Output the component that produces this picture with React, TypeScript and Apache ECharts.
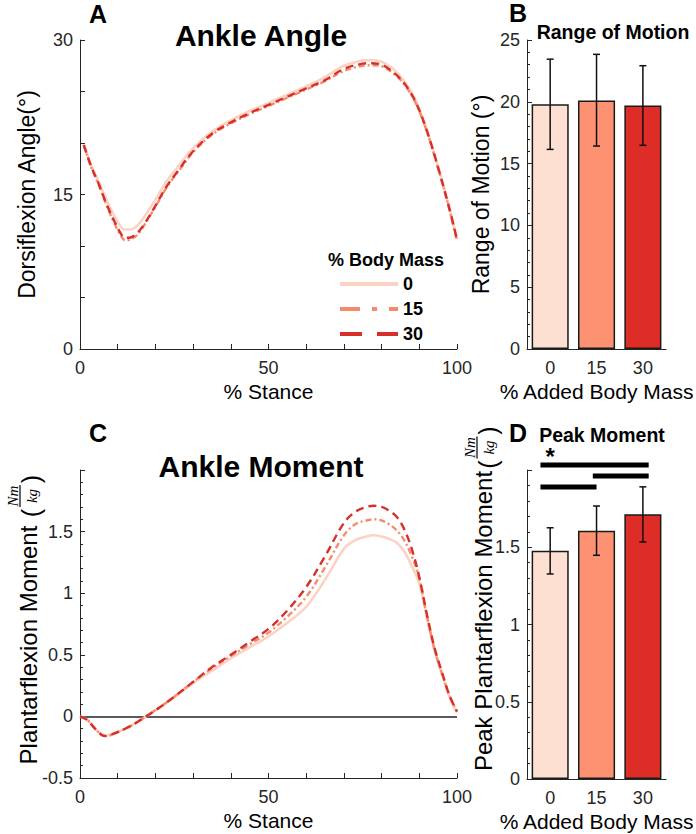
import React, { useEffect, useRef } from "react";
import * as echarts from "echarts";

// ---------- data ----------
const STANCE_A = [1, 3, 5, 7, 9, 11, 12, 13, 15, 17, 20, 23, 26, 30, 35, 40, 45, 50, 55, 60, 65, 70, 75, 77, 80, 83, 86, 89, 92, 95, 98, 100];
const ANGLE_0 = [19.9, 17.8, 16.2, 14.5, 13.0, 11.8, 11.6, 11.6, 11.9, 12.8, 14.5, 16.3, 17.7, 19.5, 21.1, 22.2, 23.1, 23.9, 24.7, 25.5, 26.4, 27.5, 28.0, 28.05, 27.9, 27.2, 26.0, 24.2, 21.3, 17.7, 13.7, 10.7];
const ANGLE_15 = [19.8, 17.6, 15.9, 14.0, 12.3, 10.9, 10.55, 10.6, 11.0, 12.0, 13.8, 15.7, 17.2, 19.1, 20.8, 21.9, 22.8, 23.6, 24.4, 25.2, 26.0, 27.0, 27.5, 27.55, 27.45, 26.8, 25.7, 23.9, 21.1, 17.5, 13.5, 10.5];
const ANGLE_30 = [19.8, 17.7, 16.0, 14.1, 12.5, 11.1, 10.8, 10.8, 11.2, 12.1, 13.9, 15.8, 17.3, 19.2, 20.9, 22.0, 22.9, 23.7, 24.5, 25.3, 26.1, 27.2, 27.7, 27.75, 27.6, 26.9, 25.8, 24.0, 21.2, 17.6, 13.6, 10.6];

const STANCE_C = [0, 2, 4, 6, 7, 9, 12, 15, 18, 21, 25, 30, 35, 40, 45, 50, 55, 60, 65, 70, 73, 76, 78, 80, 82, 84, 86, 88, 90, 92, 94, 96, 98, 100];
const MOMENT_0 = [0, -0.03, -0.1, -0.15, -0.155, -0.135, -0.1, -0.05, 0.01, 0.07, 0.155, 0.27, 0.37, 0.47, 0.56, 0.65, 0.76, 0.89, 1.11, 1.36, 1.43, 1.46, 1.47, 1.46, 1.44, 1.41, 1.34, 1.22, 1.08, 0.8, 0.54, 0.34, 0.16, 0.03];
const MOMENT_15 = [0, -0.03, -0.1, -0.155, -0.16, -0.14, -0.1, -0.05, 0.01, 0.07, 0.16, 0.28, 0.39, 0.49, 0.585, 0.68, 0.81, 0.97, 1.21, 1.47, 1.56, 1.59, 1.6, 1.59, 1.56, 1.51, 1.43, 1.3, 1.12, 0.82, 0.55, 0.35, 0.17, 0.04];
const MOMENT_30 = [0, -0.03, -0.1, -0.155, -0.16, -0.14, -0.1, -0.05, 0.01, 0.07, 0.16, 0.28, 0.4, 0.5, 0.605, 0.71, 0.86, 1.05, 1.3, 1.57, 1.66, 1.7, 1.71, 1.7, 1.67, 1.62, 1.52, 1.36, 1.13, 0.83, 0.56, 0.36, 0.17, 0.04];

const MASS_LEVELS = ["0", "15", "30"];
const ROM_MEAN = [19.8, 20.1, 19.7];
const ROM_LOW = [16.15, 16.42, 16.48];
const ROM_HIGH = [23.45, 23.84, 22.92];
const PEAK_MEAN = [1.478, 1.607, 1.713];
const PEAK_LOW = [1.327, 1.448, 1.534];
const PEAK_HIGH = [1.626, 1.767, 1.891];
// significance bars: [start (category units), end (category units), height]
const SIG_BARS = [
  [-0.21, 2.125, 2.032],
  [0.92, 2.125, 1.961],
  [-0.21, 1.0, 1.89],
];
const SIG_STAR = [[0, 2.085]];
const SIG_STAR_TEXT = ["*"];

const A_Y_TICKS = [0, 15, 30];
const A_X_TICKS = [0, 50, 100];

// ---------- style ----------
const FONT = '"Liberation Sans", Arial, Helvetica, sans-serif';
const SERIF = '"Liberation Serif", "DejaVu Serif", serif';
const AX = "#262626";
const LINE_COLORS = ["#fbd3c4", "#f58b6c", "#d7302b"];
const BAR_COLORS = ["#fee0d2", "#fc9272", "#de2d26"];
const LINE_TYPES: any[] = ["solid", [6, 3, 2, 3], [8, 5]];
const LEGEND_TYPES: any[] = ["solid", [20, 12, 5, 12], [22, 15]];

function zip(xs: number[], ys: number[]) {
  return xs.map((x, i) => [x, ys[i]]);
}

const axisLine = { show: true, onZero: false, lineStyle: { color: AX, width: 1 } };
const axisTick = { show: true, inside: true, length: 5, lineStyle: { color: AX, width: 1 } };
const minorTick = { show: true, splitNumber: 5, length: 3, lineStyle: { color: AX, width: 1 } };
const label = (margin: number, formatter?: any) => ({
  color: AX,
  fontSize: 18,
  fontFamily: FONT,
  margin,
  formatter,
});
const nameStyle = { color: "#000", fontSize: 21, fontFamily: FONT };

function rotText(text: string, x: number, y: number, size: number, family = FONT, style: any = {}) {
  return {
    type: "text",
    x,
    y,
    rotation: Math.PI / 2,
    style: {
      text,
      fill: "#000",
      fontSize: size,
      fontFamily: family,
      align: "center",
      verticalAlign: "middle",
      textAlign: "center",
      textVerticalAlign: "middle",
      ...style,
    },
  };
}
function hText(text: string, x: number, y: number, size: number, bold = true) {
  return {
    type: "text",
    x,
    y,
    style: {
      text,
      fill: "#000",
      fontSize: size,
      fontWeight: bold ? "bold" : "normal",
      fontFamily: FONT,
      align: "center",
      verticalAlign: "middle",
      textAlign: "center",
      textVerticalAlign: "middle",
    },
  };
}
// rotated axis label with a (Nm / kg) fraction; fx = screen x of fraction bar, fy = its centre
function fractionLabel(xMain: number, yMain: number, main: string, size: number, fx: number, fy: number) {
  return [
    rotText(main, xMain, yMain, size),
    rotText("(", fx + 11, fy + 17, 25),
    rotText("Nm", fx - 7.5, fy, 15, SERIF, { fontStyle: "italic" }),
    { type: "line", shape: { x1: fx, y1: fy - 11, x2: fx, y2: fy + 11 }, style: { stroke: "#000", lineWidth: 1.2 } },
    rotText("kg", fx + 12, fy, 15, SERIF, { fontStyle: "italic" }),
    rotText(")", fx + 11, fy - 17, 25),
  ];
}

function errorBarRender(params: any, api: any) {
  const cat = api.value(0);
  const lo = api.coord([cat, api.value(1)]);
  const hi = api.coord([cat, api.value(2)]);
  const cap = 3.5;
  const style = { stroke: "#111", lineWidth: 1.5 };
  return {
    type: "group",
    children: [
      { type: "line", shape: { x1: lo[0], y1: lo[1], x2: hi[0], y2: hi[1] }, style },
      { type: "line", shape: { x1: lo[0] - cap, y1: lo[1], x2: lo[0] + cap, y2: lo[1] }, style },
      { type: "line", shape: { x1: hi[0] - cap, y1: hi[1], x2: hi[0] + cap, y2: hi[1] }, style },
    ],
  };
}

function sigRender(params: any, api: any) {
  const base = api.coord([api.value(0), api.value(1)]);
  const band = api.size([1, 0])[0];
  const x1 = base[0] + api.value(2) * band;
  const x2 = base[0] + api.value(3) * band;
  return {
    type: "line",
    shape: { x1, y1: base[1], x2, y2: base[1] },
    style: { stroke: "#000", lineWidth: 5, lineCap: "butt" },
  };
}

function starRender(params: any, api: any) {
  const p = api.coord([api.value(0), api.value(1)]);
  return {
    type: "text",
    x: p[0],
    y: p[1],
    style: {
      text: SIG_STAR_TEXT[params.dataIndex],
      fill: "#000",
      fontSize: 24,
      fontWeight: "bold",
      fontFamily: FONT,
      align: "center",
      verticalAlign: "middle",
      textAlign: "center",
      textVerticalAlign: "middle",
    },
  };
}

function buildOption(): any {
  const lineSeries = (ys: number[][], xIdx: number) =>
    ys.map((arr, i) => ({
      type: "line",
      name: MASS_LEVELS[i],
      xAxisIndex: xIdx,
      yAxisIndex: xIdx,
      data: zip(xIdx === 0 ? STANCE_A : STANCE_C, arr),
      smooth: 0.35,
      symbol: "none",
      showSymbol: false,
      z: 3 + i,
      lineStyle: { color: LINE_COLORS[i], width: i === 0 ? 2.6 : 2.4, type: LINE_TYPES[i] },
      itemStyle: { color: LINE_COLORS[i] },
      ...(xIdx === 2 && i === 0
        ? {
            markLine: {
              silent: true,
              symbol: "none",
              label: { show: false },
              lineStyle: { color: "#5a5a5a", width: 2, type: "solid" },
              data: [{ yAxis: 0 }],
              z: 2,
            },
          }
        : {}),
    }));

  const bars = (vals: number[], idx: number) => ({
    type: "bar",
    xAxisIndex: idx,
    yAxisIndex: idx,
    barWidth: "80%",
    data: vals.map((v, i) => ({
      value: v,
      itemStyle: { color: BAR_COLORS[i], borderColor: "#1a1a1a", borderWidth: 1.5 },
    })),
    z: 2,
  });

  const errs = (lo: number[], hi: number[], idx: number) => ({
    type: "custom",
    xAxisIndex: idx,
    yAxisIndex: idx,
    renderItem: errorBarRender,
    encode: { x: 0, y: [1, 2] },
    data: lo.map((l, i) => [i, l, hi[i]]),
    z: 5,
  });

  return {
    animation: false,
    backgroundColor: "#ffffff",
    textStyle: { fontFamily: FONT },
    grid: [
      { left: 80, top: 40, width: 377, height: 309 },
      { left: 527, top: 40, width: 144, height: 309 },
      { left: 80, top: 470, width: 377, height: 308 },
      { left: 527, top: 470, width: 144, height: 309 },
    ],
    xAxis: [
      {
        gridIndex: 0,
        type: "value",
        min: 0,
        max: 100,
        interval: 10,
        axisLine,
        axisTick,
        splitLine: { show: false },
        axisLabel: label(10, (v: number) => (A_X_TICKS.includes(v) ? String(v) : "")),
        name: "% Stance",
        nameLocation: "middle",
        nameGap: 32,
        nameTextStyle: nameStyle,
      },
      {
        gridIndex: 1,
        type: "category",
        data: MASS_LEVELS,
        axisLine,
        axisTick: { show: false },
        axisLabel: label(10),
        name: "% Added Body Mass",
        nameLocation: "middle",
        nameGap: 32,
        nameTextStyle: nameStyle,
      },
      {
        gridIndex: 2,
        type: "value",
        min: 0,
        max: 100,
        interval: 10,
        axisLine,
        axisTick,
        splitLine: { show: false },
        axisLabel: label(10, (v: number) => (A_X_TICKS.includes(v) ? String(v) : "")),
        name: "% Stance",
        nameLocation: "middle",
        nameGap: 32,
        nameTextStyle: nameStyle,
      },
      {
        gridIndex: 3,
        type: "category",
        data: MASS_LEVELS,
        axisLine,
        axisTick: { show: false },
        axisLabel: label(10),
        name: "% Added Body Mass",
        nameLocation: "middle",
        nameGap: 32,
        nameTextStyle: nameStyle,
      },
    ],
    yAxis: [
      {
        gridIndex: 0,
        type: "value",
        min: 0,
        max: 30,
        interval: 5,
        axisLine,
        axisTick,
        splitLine: { show: false },
        axisLabel: label(7, (v: number) => (A_Y_TICKS.includes(v) ? String(v) : "")),
        name: "Dorsiflexion Angle(°)",
        nameLocation: "middle",
        nameGap: 42,
        nameRotate: 90,
        nameTextStyle: { ...nameStyle, fontSize: 23 },
      },
      {
        gridIndex: 1,
        type: "value",
        min: 0,
        max: 25,
        interval: 5,
        axisLine,
        axisTick,
        minorTick,
        splitLine: { show: false },
        axisLabel: label(7),
        name: "Range of Motion (°)",
        nameLocation: "middle",
        nameGap: 35,
        nameRotate: 90,
        nameTextStyle: { ...nameStyle, fontSize: 23 },
      },
      {
        gridIndex: 2,
        type: "value",
        min: -0.5,
        max: 2,
        interval: 0.5,
        axisLine,
        axisTick,
        minorTick,
        splitLine: { show: false },
        axisLabel: label(7, (v: number) => (v === 2 ? "" : String(v))),
      },
      {
        gridIndex: 3,
        type: "value",
        min: 0,
        max: 2,
        interval: 0.5,
        axisLine,
        axisTick,
        minorTick,
        splitLine: { show: false },
        axisLabel: label(7, (v: number) => (v === 2 ? "" : String(v))),
      },
    ],
    legend: {
      data: MASS_LEVELS.map((n, i) => ({
        name: n,
        lineStyle: { width: 4, type: LEGEND_TYPES[i], color: LINE_COLORS[i] },
        itemStyle: { opacity: 0 },
      })),
      left: 338,
      top: 275,
      padding: 0,
      orient: "vertical",
      itemWidth: 58,
      itemHeight: 14,
      itemGap: 7,
      itemStyle: { opacity: 0 },
      textStyle: { fontWeight: "bold", fontSize: 18, fontFamily: FONT, color: "#000" },
    },
    graphic: {
      elements: [
        hText("A", 98, 14, 25),
        hText("Ankle Angle", 261, 35, 30),
        hText("% Body Mass", 386, 260, 18),
        hText("B", 518, 13, 25),
        hText("Range of Motion", 613, 32, 19.5),
        hText("C", 98, 433, 25),
        hText("Ankle Moment", 261, 466, 30),
        hText("D", 518, 433, 25),
        hText("Peak Moment", 602, 435, 19.5),
        ...fractionLabel(28.5, 645, "Plantarflexion Moment", 24, 20, 496),
        ...fractionLabel(483.5, 621, "Peak Plantarflexion Moment", 24, 477, 447.5),
      ],
    },
    series: [
      ...lineSeries([ANGLE_0, ANGLE_15, ANGLE_30], 0),
      ...lineSeries([MOMENT_0, MOMENT_15, MOMENT_30], 2),
      bars(ROM_MEAN, 1),
      errs(ROM_LOW, ROM_HIGH, 1),
      bars(PEAK_MEAN, 3),
      errs(PEAK_LOW, PEAK_HIGH, 3),
      {
        type: "custom",
        xAxisIndex: 3,
        yAxisIndex: 3,
        renderItem: sigRender,
        encode: { x: 0, y: 1 },
        data: SIG_BARS.map((s) => [0, s[2], s[0], s[1]]),
        clip: false,
        z: 6,
      },
      {
        type: "custom",
        xAxisIndex: 3,
        yAxisIndex: 3,
        renderItem: starRender,
        encode: { x: 0, y: 1 },
        data: SIG_STAR,
        clip: false,
        z: 6,
      },
    ],
  };
}

export default function App() {
  const ref = useRef<HTMLDivElement>(null);
  useEffect(() => {
    if (!ref.current) return;
    const chart = echarts.init(ref.current, undefined, { renderer: "svg" });
    chart.setOption(buildOption());
    return () => chart.dispose();
  }, []);
  return (
    <div
      ref={ref}
      style={{ position: "absolute", left: 0, top: 0, width: 696, height: 834, background: "#fff" }}
    />
  );
}
